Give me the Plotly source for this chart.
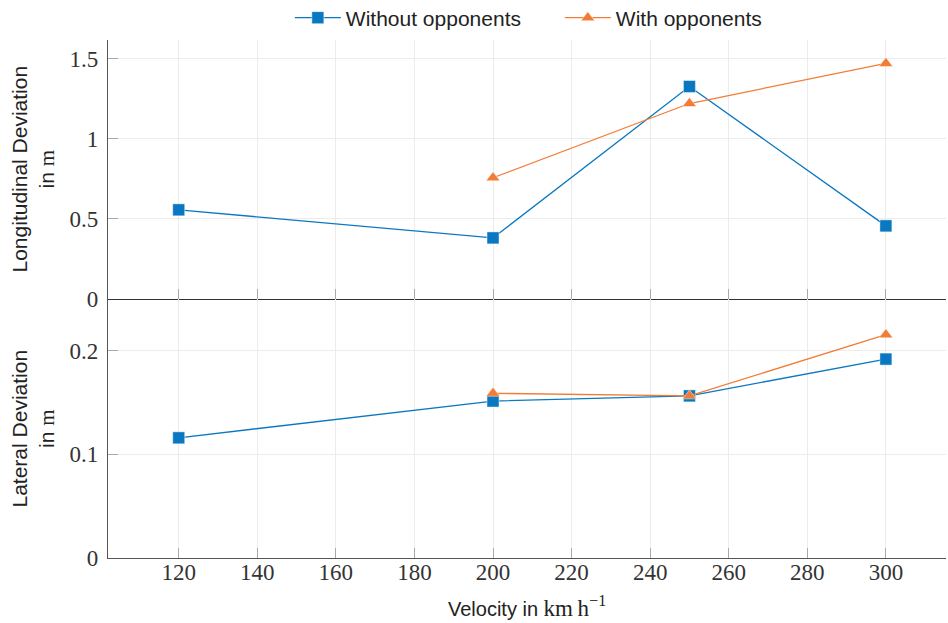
import plotly.graph_objects as go

# Velocities (km/h)
speeds_without = [120, 200, 250, 300]
speeds_with = [200, 250, 300]

# Longitudinal deviation (m)
lon_without = [0.556, 0.381, 1.325, 0.456]
lon_with = [0.756, 1.219, 1.469]

# Lateral deviation (m)
lat_without = [0.116, 0.1515, 0.1565, 0.192]
lat_with = [0.159, 0.1565, 0.2155]

x_ticks = [120, 140, 160, 180, 200, 220, 240, 260, 280, 300]
lon_ticks = [0, 0.5, 1, 1.5]
lon_ticktext = ["0", "0.5", "1", "1.5"]
lat_ticks = [0, 0.1, 0.2]
lat_ticktext = ["0", "0.1", "0.2"]

BLUE = "#0a78c1"
ORANGE = "#f27c35"
SANS = "Liberation Sans"
SERIF = "Liberation Serif"

fig = go.Figure()

series = [
    ("Without opponents", speeds_without, lon_without, lat_without, BLUE, "square"),
    ("With opponents", speeds_with, lon_with, lat_with, ORANGE, "triangle-up"),
]
for name, xs, lon, lat, color, sym in series:
    marker = dict(symbol=sym, size=12, color=color,
                  line=dict(color="rgba(255,255,255,0.45)", width=1))
    fig.add_trace(go.Scatter(
        x=xs, y=lon, name=name, mode="lines+markers",
        line=dict(color=color, width=1.3), marker=marker,
        xaxis="x", yaxis="y", legendgroup=name,
    ))
    fig.add_trace(go.Scatter(
        x=xs, y=lat, name=name, mode="lines+markers",
        line=dict(color=color, width=1.3), marker=marker,
        xaxis="x2", yaxis="y2", legendgroup=name, showlegend=False,
    ))

tick_font = dict(family=SERIF, size=23, color="#333")
grid = "#ececec"

common_x = dict(
    range=[102, 315.3], tickvals=x_ticks, ticks="inside", ticklen=10,
    tickcolor="#aaa", tickwidth=1, showgrid=True, gridcolor=grid,
    gridwidth=1, zeroline=False, showline=True, linewidth=1.3,
)
common_y = dict(
    ticks="inside", ticklen=10, tickcolor="#aaa", tickwidth=1,
    showgrid=True, gridcolor=grid, gridwidth=1, zeroline=False,
    showline=True, linecolor="#555", linewidth=1.3, tickfont=tick_font,
    ticklabelstandoff=4,
)

fig.update_layout(
    width=948, height=623,
    margin=dict(l=108, r=2, t=40, b=65, autoexpand=False),
    paper_bgcolor="white", plot_bgcolor="white",
    xaxis=dict(anchor="y", showticklabels=False, linecolor="#333", **common_x),
    xaxis2=dict(anchor="y2", matches="x", showticklabels=True,
                linecolor="#555", tickfont=tick_font, ticklabelstandoff=-7,
                **common_x),
    yaxis=dict(domain=[0.5, 1], range=[0, 1.615], tickvals=lon_ticks,
               ticktext=lon_ticktext, anchor="x", **common_y),
    yaxis2=dict(domain=[0, 0.5], range=[0, 0.25], tickvals=lat_ticks,
                ticktext=lat_ticktext, anchor="x2", **common_y),
    legend=dict(
        orientation="h", x=0.217, xanchor="left", y=1.0425, yanchor="middle",
        font=dict(family=SANS, size=21, color="#222"),
        itemwidth=46, entrywidth=209, entrywidthmode="pixels",
        bgcolor="rgba(0,0,0,0)",
    ),
    showlegend=True,
)

title_font = dict(family=SANS, size=21, color="#222")
fig.add_annotation(
    text="Longitudinal Deviation<br>in <span style='font-family:Liberation Serif'>m</span>",
    xref="paper", yref="paper", x=0, y=0.75, xanchor="center", yanchor="middle",
    xshift=-75, textangle=-90, showarrow=False, font=title_font,
)
fig.add_annotation(
    text="Lateral Deviation<br>in <span style='font-family:Liberation Serif'>m</span>",
    xref="paper", yref="paper", x=0, y=0.25, xanchor="center", yanchor="middle",
    xshift=-75, textangle=-90, showarrow=False, font=title_font,
)
fig.add_annotation(
    text="Velocity in <span style='font-family:Liberation Serif;font-size:23px'>km\u2009h<sup>\u22121</sup></span>",
    xref="paper", yref="paper", x=0.5, y=0, xanchor="center", yanchor="middle",
    yshift=-48, showarrow=False, font=dict(family=SANS, size=20, color="#222"),
)

fig.write_html("out.html")
